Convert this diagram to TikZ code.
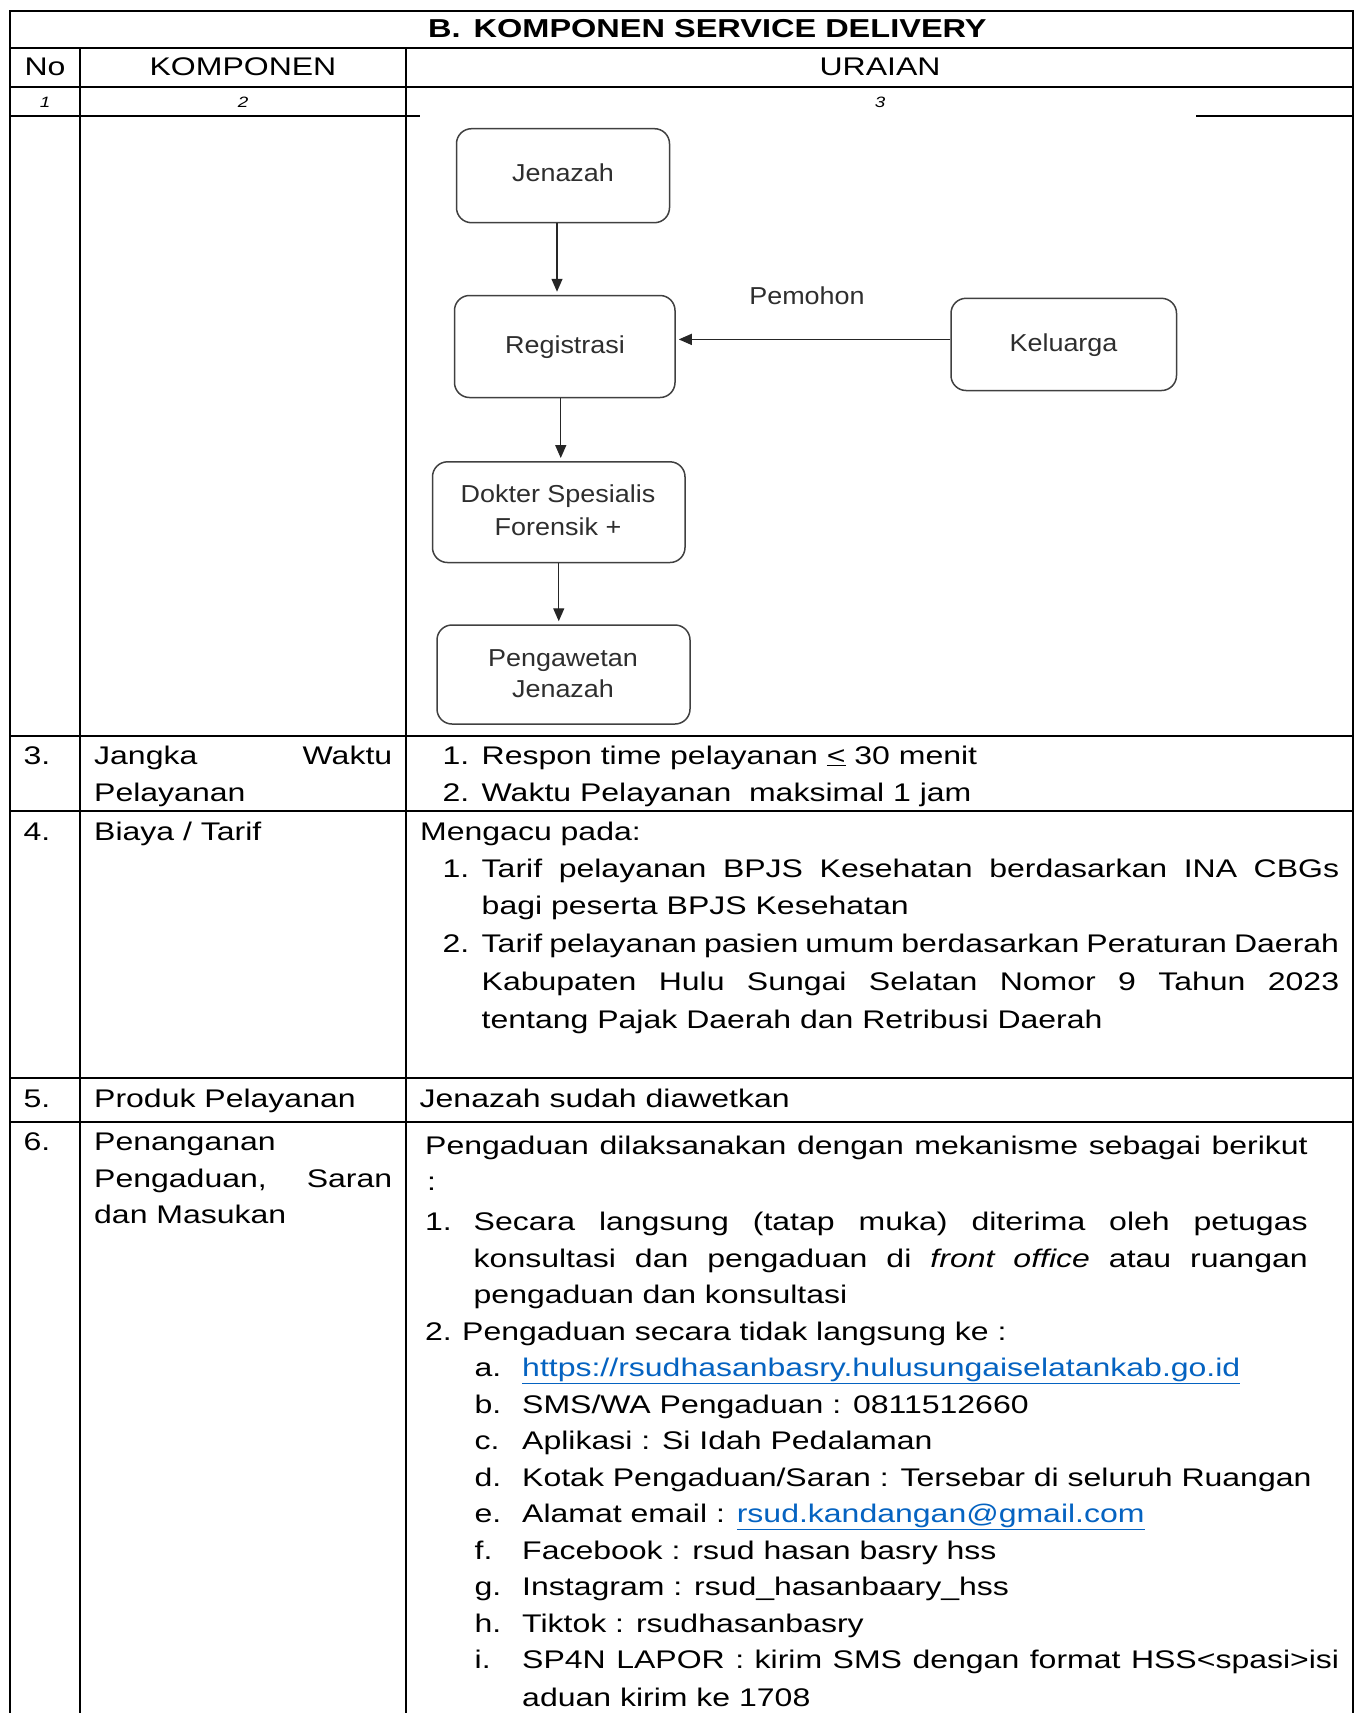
\documentclass[tikz,border=0pt]{standalone}
\usepackage{fontspec}
\setmainfont{Liberation Sans}[FakeStretch=1.255]
\newfontfamily\diagfont{Liberation Sans}[FakeStretch=1.1]
\usetikzlibrary{arrows.meta}
\definecolor{linkblue}{HTML}{0563C1}
\definecolor{boxgray}{HTML}{404040}
\definecolor{dtextgray}{HTML}{2E2E2E}
\newcommand\mainsz{\fontsize{25.5}{37}\selectfont}
\newcommand\titlesz{\fontsize{25.9}{37}\selectfont}
\newcommand\smallsz{\fontsize{15}{18}\selectfont}
\newcommand\diagsz{\diagfont\fontsize{24.5}{32}\selectfont}
\newcommand\lnk[1]{\textcolor{linkblue}{\underline{#1}}}
\newcommand\just[2]{\makebox[#1][s]{#2}}
\tikzset{
  tline/.style={line width=2pt, black},
  tx/.style={anchor=base west, inner sep=0pt, font=\mainsz},
  txc/.style={anchor=base, inner sep=0pt, font=\mainsz},
  nums/.style={anchor=base, inner sep=0pt, font=\smallsz\itshape},
  dbox/.style={draw=boxgray, line width=1.5pt, rounded corners=15pt, inner sep=0pt},
  dtx/.style={anchor=base, inner sep=0pt, font=\diagsz, text=dtextgray},
  arr/.style={draw=black!85, line width=1.4pt, -{Triangle[length=13pt,width=11pt]}, shorten >=3pt},
}
\begin{document}
\begin{tikzpicture}[x=1pt,y=-1pt]
\useasboundingbox (0,0) rectangle (1359,1713);
% ---------- table rules ----------
\draw[tline] (10,1713) -- (10,11) -- (1353.3,11) -- (1353.3,1713);
\draw[tline] (10,47.7) -- (1353.3,47.7);
\draw[tline] (10,87.3) -- (1353.3,87.3);
\draw[tline] (10,116) -- (420,116);
\draw[tline] (1196,116) -- (1353.3,116);
\draw[tline] (10,736) -- (1353.3,736);
\draw[tline] (10,811) -- (1353.3,811);
\draw[tline] (10,1078.3) -- (1353.3,1078.3);
\draw[tline] (10,1122) -- (1353.3,1122);
\draw[tline] (80,47.7) -- (80,1713);
\draw[tline] (405.7,47.7) -- (405.7,1713);
% ---------- headers ----------
\node[tx, font=\titlesz\bfseries] (title) at (428,37) {B.\hspace{13pt}KOMPONEN SERVICE DELIVERY};
\node[txc] (hno) at (45,75.7) {No};
\node[txc] (hkomp) at (243,75.7) {KOMPONEN};
\node[txc] (hur) at (880,75.7) {URAIAN};
\node[nums] (n1) at (45,107) {1};
\node[nums] (n2) at (243,107) {2};
\node[nums] (n3) at (880,107) {3};
% ---------- flow diagram ----------
\node[dbox, minimum width=213pt, minimum height=94pt] (jen) at (563,175.7) {};
\node[dbox, minimum width=220.5pt, minimum height=102pt] (reg) at (564.75,346.5) {};
\node[dbox, minimum width=225.5pt, minimum height=92.2pt] (kel) at (1063.75,344.4) {};
\node[dbox, minimum width=252.5pt, minimum height=100.7pt] (dok) at (558.75,512.15) {};
\node[dbox, minimum width=253pt, minimum height=99pt] (pen) at (563.5,674.5) {};
\node[dtx] (jent) at (563,181.7) {Jenazah};
\node[dtx] (regt) at (565,353.3) {Registrasi};
\node[dtx] (kelt) at (1063.5,351.7) {Keluarga};
\node[dtx] (dokt1) at (558,502.7) {Dokter Spesialis};
\node[dtx] (dokt2) at (558,535) {Forensik +};
\node[dtx] (pent1) at (563,666.7) {Pengawetan};
\node[dtx] (pent2) at (563,697.7) {Jenazah};
\node[dtx] (pem) at (807,304) {Pemohon};
\draw[arr] ([xshift=-6pt]jen.south) -- ([xshift=-6pt]jen.south |- reg.north);
\draw[arr] ([yshift=5pt]kel.west) -- ([yshift=5pt]kel.west -| reg.east);
\draw[arr] ([xshift=-4pt]reg.south) -- ([xshift=-4pt]reg.south |- dok.north);
\draw[arr] (dok.south) -- (dok.south |- pen.north);
% ---------- row 3 ----------
\node[tx] (r3no) at (23.5,764) {3.};
\node[tx] (r3k1) at (94,764) {\just{298pt}{Jangka Waktu}};
\node[tx] (r3k2) at (94,801) {Pelayanan};
\node[tx] (r3a) at (442.5,764) {1.};
\node[tx] (r3at) at (481.5,764) {Respon time pelayanan \underline{<} 30 menit};
\node[tx] (r3b) at (442.5,801) {2.};
\node[tx] (r3bt) at (481.5,801) {Waktu Pelayanan\ \ maksimal 1 jam};
% ---------- row 4 ----------
\node[tx] (r4no) at (23.5,840.5) {4.};
\node[tx] (r4k) at (94,840.5) {Biaya / Tarif};
\node[tx] (r4u0) at (420,840.5) {Mengacu pada:};
\node[tx] (r4a) at (442.5,877) {1.};
\node[tx] (r4at1) at (481.5,877) {\just{857.5pt}{Tarif pelayanan BPJS Kesehatan berdasarkan INA CBGs}};
\node[tx] (r4at2) at (481.5,914.5) {bagi peserta BPJS Kesehatan};
\node[tx] (r4b) at (442.5,952) {2.};
\node[tx] (r4bt1) at (481.5,952) {\just{857.5pt}{Tarif pelayanan pasien umum berdasarkan Peraturan Daerah}};
\node[tx] (r4bt2) at (481.5,990) {\just{857.5pt}{Kabupaten Hulu Sungai Selatan Nomor 9 Tahun 2023}};
\node[tx] (r4bt3) at (481.5,1028) {tentang Pajak Daerah dan Retribusi Daerah};
% ---------- row 5 ----------
\node[tx] (r5no) at (23.5,1107) {5.};
\node[tx] (r5k) at (94,1107) {Produk Pelayanan};
\node[tx] (r5u) at (419.5,1107) {Jenazah sudah diawetkan};
% ---------- row 6 ----------
\node[tx] (r6no) at (23.5,1150.5) {6.};
\node[tx] (r6k1) at (94,1150.5) {Penanganan};
\node[tx] (r6k2) at (94,1187) {\just{298pt}{Pengaduan, Saran}};
\node[tx] (r6k3) at (94,1223.5) {dan Masukan};
\node[tx] (r6l1) at (425,1154) {\just{882.6pt}{Pengaduan dilaksanakan dengan mekanisme sebagai berikut}};
\node[tx] (r6l2) at (427,1190.5) {:};
\node[tx] (r6a) at (425,1230.5) {1.};
\node[tx] (r6at1) at (473.5,1230.5) {\just{834pt}{Secara langsung (tatap muka) diterima oleh petugas}};
\node[tx] (r6at2) at (473.5,1267) {\just{834pt}{konsultasi dan pengaduan di \textit{front office} atau ruangan}};
\node[tx] (r6at3) at (473.5,1303.5) {pengaduan dan konsultasi};
\node[tx] (r6b) at (425,1340) {2.};
\node[tx] (r6bt) at (462,1340) {Pengaduan secara tidak langsung ke :};
\node[tx] (r6ia) at (474.5,1376.5) {a.};
\node[tx] (r6ta) at (522,1376.5) {\lnk{https://rsudhasanbasry.hulusungaiselatankab.go.id}};
\node[tx] (r6ib) at (474.5,1413) {b.};
\node[tx] (r6tb) at (522,1413) {SMS/WA Pengaduan : 0811512660};
\node[tx] (r6ic) at (474.5,1449.5) {c.};
\node[tx] (r6tc) at (522,1449.5) {Aplikasi : Si Idah Pedalaman};
\node[tx] (r6id) at (474.5,1486) {d.};
\node[tx] (r6td) at (522,1486) {Kotak Pengaduan/Saran : Tersebar di seluruh Ruangan};
\node[tx] (r6ie) at (474.5,1522.5) {e.};
\node[tx] (r6te) at (522,1522.5) {Alamat email : \lnk{rsud.kandangan@gmail.com}};
\node[tx] (r6if) at (474.5,1559) {f.};
\node[tx] (r6tf) at (522,1559) {Facebook : rsud hasan basry hss};
\node[tx] (r6ig) at (474.5,1595.5) {g.};
\node[tx] (r6tg) at (522,1595.5) {Instagram : rsud\_hasanbaary\_hss};
\node[tx] (r6ih) at (474.5,1632) {h.};
\node[tx] (r6th) at (522,1632) {Tiktok : rsudhasanbasry};
\node[tx] (r6ii) at (474.5,1668.5) {i.};
\node[tx] (r6ti1) at (522,1668.5) {\just{817pt}{SP4N LAPOR : kirim SMS dengan format HSS<spasi>isi}};
\node[tx] (r6ti2) at (522,1706) {aduan kirim ke 1708};
\end{tikzpicture}
\end{document}
